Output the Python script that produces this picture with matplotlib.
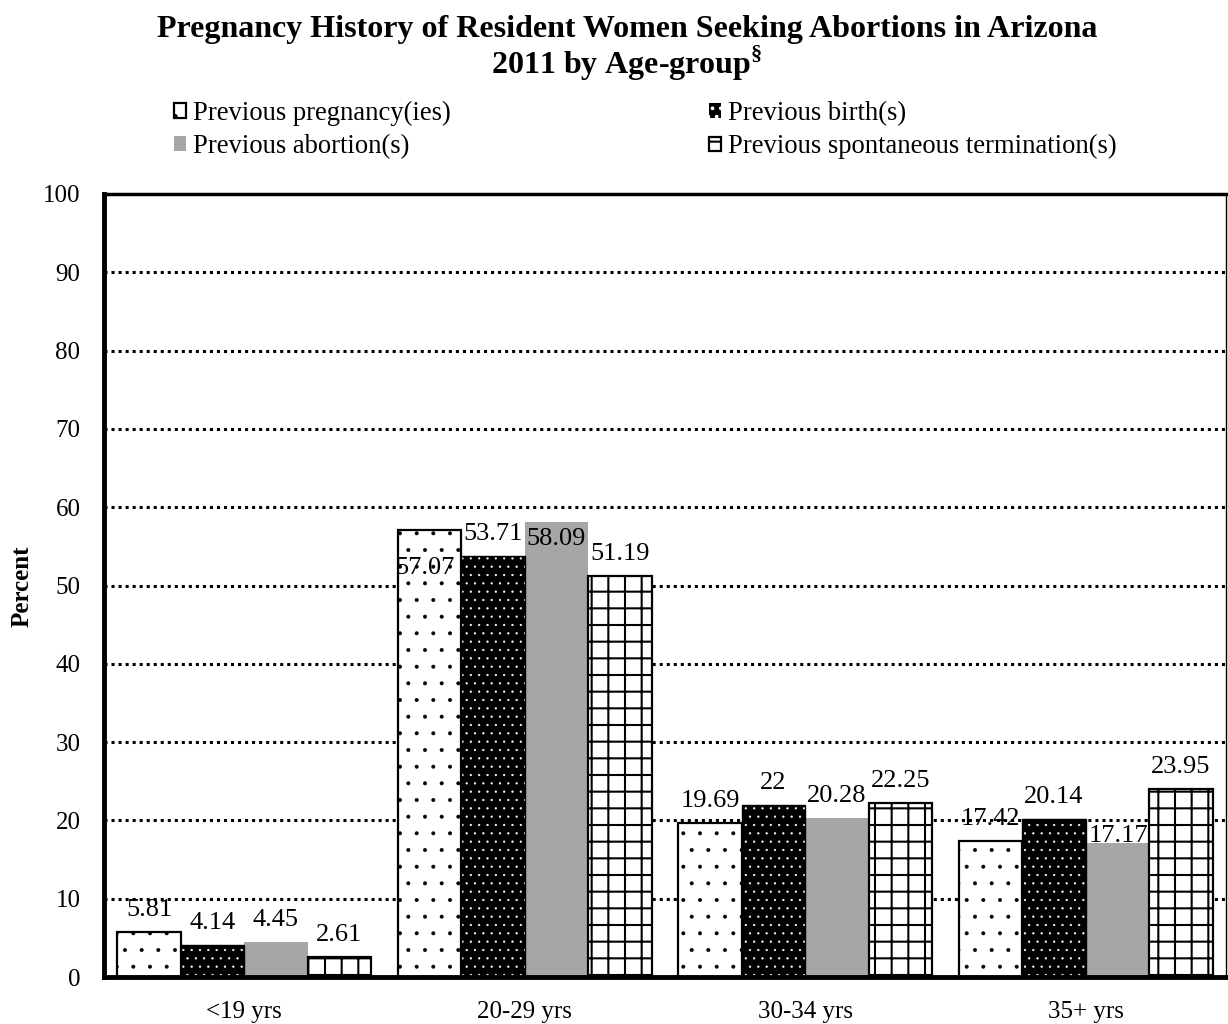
import matplotlib
matplotlib.use("Agg")
import matplotlib.pyplot as plt
from matplotlib.patches import Patch
import numpy as np

# Data
age_groups = ["<19 yrs", "20-29 yrs", "30-34 yrs", "35+ yrs"]
series_names = [
    "Previous pregnancy(ies)",
    "Previous birth(s)",
    "Previous abortion(s)",
    "Previous spontaneous termination(s)",
]
pregnancies = [5.81, 57.07, 19.69, 17.42]
births = [4.14, 53.71, 22, 20.14]
abortions = [4.45, 58.09, 20.28, 17.17]
spontaneous = [2.61, 51.19, 22.25, 23.95]
y_ticks = [0, 10, 20, 30, 40, 50, 60, 70, 80, 90, 100]

series_values = [pregnancies, births, abortions, spontaneous]

plt.rcParams["font.family"] = ["Liberation Serif", "DejaVu Serif"]
plt.rcParams["mathtext.fontset"] = "custom"
plt.rcParams["mathtext.rm"] = "Liberation Serif"
plt.rcParams["mathtext.bf"] = "Liberation Serif:bold"
plt.rcParams["hatch.linewidth"] = 1.5

DPI = 100
fig = plt.figure(figsize=(12.28, 10.24), dpi=DPI)
ax = fig.add_axes([104 / 1228, 47 / 1024, 1122 / 1228, 783 / 1024])

# Bar styles: (facecolor, edgecolor/hatch colour, hatch)
styles = [
    dict(facecolor="white", edgecolor="black", hatch=".", linewidth=1.6),
    dict(facecolor="black", edgecolor="white", hatch="..", linewidth=0.0),
    dict(facecolor="#a6a6a6", edgecolor="#a6a6a6", hatch=None, linewidth=0.0),
    dict(facecolor="white", edgecolor="black", hatch="+", linewidth=1.6),
]
hatch_widths = [0.4, 0.4, 1.0, 1.5]


def set_hatch_width(patches, lw):
    for p in patches:
        if hasattr(p, "set_hatch_linewidth"):
            p.set_hatch_linewidth(lw)


x = np.arange(len(age_groups))
width = 0.226
bar_containers = []
for j, (vals, st) in enumerate(zip(series_values, styles)):
    xpos = x + (j - 1.5) * width
    bars = ax.bar(xpos, vals, width=width, zorder=2, **st)
    set_hatch_width(bars, hatch_widths[j])
    bar_containers.append(bars)
    if j == 1:
        # thin black outline around the white-dotted bars
        ax.bar(xpos, vals, width=width, fill=False, edgecolor="black",
               linewidth=1.0, zorder=3)

# Value labels: offsets in pixels (dx, dy) from the bar top centre
default_offset = (0, 16)
label_offsets = {
    (0, 1): (-5, -44),
    (2, 1): (0, -23),
    (2, 3): (1, 1),
}
px2pt = 72.0 / DPI
for j, bars in enumerate(bar_containers):
    for i, rect in enumerate(bars):
        val = series_values[j][i]
        dx, dy = label_offsets.get((j, i), default_offset)
        ax.annotate(f"{val:g}",
                    xy=(rect.get_x() + rect.get_width() / 2, val),
                    xytext=(dx * px2pt, dy * px2pt), textcoords="offset points",
                    ha="center", va="baseline", fontsize=19, zorder=5)

# Axes styling
ax.set_xlim(-0.5, len(age_groups) - 0.5)
ax.set_ylim(0, 100)
ax.set_yticks(y_ticks)
ax.set_xticks(x)
ax.set_xticklabels(age_groups)
ax.tick_params(axis="both", length=0, labelsize=18)
ax.tick_params(axis="y", pad=17)
ax.tick_params(axis="x", pad=17)

ax.set_axisbelow(True)
ax.yaxis.grid(True, color="black", linewidth=2.2, linestyle=(0, (1, 1.3)))
ax.spines["left"].set_linewidth(3.5)
ax.spines["bottom"].set_linewidth(3.5)
ax.spines["top"].set_linewidth(2.5)
ax.spines["right"].set_linewidth(1.0)
for s in ax.spines.values():
    s.set_color("black")
    s.set_zorder(4)

fig.text(22 / 1228, 1 - 586 / 1024, "Percent", rotation=90,
         ha="center", va="center", fontsize=18, fontweight="bold")

# Title
fig.text(627 / 1228, 1 - 29 / 1024,
         "Pregnancy History of Resident Women Seeking Abortions in Arizona",
         ha="center", va="center", fontsize=23, fontweight="bold")
fig.text(627 / 1228, 1 - 63 / 1024,
         r"2011 by Age-group$^{\mathbf{§}}$",
         ha="center", va="center", fontsize=23, fontweight="bold")

# Legend (column-wise order so rows read pregnancy/birth, abortion/spontaneous)
handles = [Patch(**styles[k]) for k in range(4)]
order = [0, 2, 1, 3]
leg = fig.legend([handles[k] for k in order], [series_names[k] for k in order],
                 loc="upper left", bbox_to_anchor=(174 / 1228, 1 - 101 / 1024),
                 ncol=2, frameon=False, fontsize=19.2,
                 handlelength=0.45, handleheight=0.45, handletextpad=0.25,
                 columnspacing=9.7, labelspacing=0.3, borderpad=0,
                 borderaxespad=0)

fig.savefig("out.png", dpi=DPI)
